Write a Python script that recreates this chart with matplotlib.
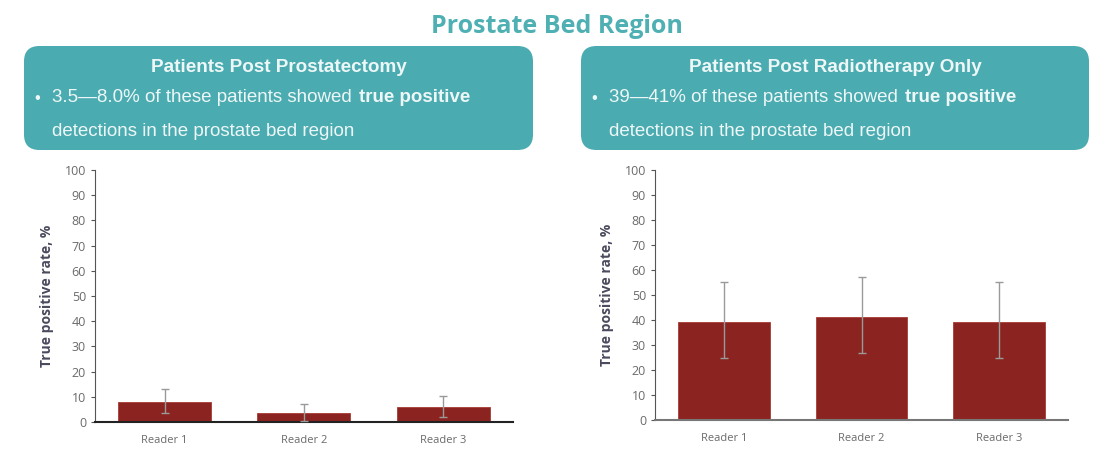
import matplotlib.pyplot as plt
from matplotlib.patches import FancyBboxPatch

readers = ['Reader 1', 'Reader 2', 'Reader 3']
# post prostatectomy
post_prost = [8.0, 3.5, 6.0]
post_prost_lo = [3.5, 0.5, 2.0]
post_prost_hi = [13.0, 7.3, 10.5]
# post radiotherapy only
post_rt = [39.0, 41.0, 39.0]
post_rt_lo = [25.0, 27.0, 25.0]
post_rt_hi = [55.0, 57.0, 55.0]
yticks = list(range(0, 101, 10))

teal = '#4aabb0'
bar_col = '#8b2420'
txt_col = '#eef7f7'

fig = plt.figure(figsize=(11.05, 4.74), dpi=100)
fig.text(0.504, 0.945, 'Prostate Bed Region', ha='center', va='center',
         fontsize=18, fontweight='bold', color='#4fb0b3', family='Open Sans')


def header(x0, x1, title, lead, bold, tail):
    W, H = 1105, 474
    box = FancyBboxPatch((x0 / W, 1 - 150 / H), (x1 - x0) / W, 104 / H,
                         boxstyle='round,pad=0,rounding_size=0.014',
                         transform=fig.transFigure, facecolor=teal, edgecolor='none',
                         mutation_aspect=W / H)
    fig.patches.append(box)
    fig.text((x0 + x1) / 2 / W, 1 - 68 / H, title, ha='center', va='center',
             fontsize=13.6, fontweight='bold', color=txt_col, family='Liberation Sans')
    fig.text((x0 + 10) / W, 1 - 98 / H, '\u2022', ha='left', va='center',
             fontsize=12, color=txt_col, family='Liberation Sans')
    t = fig.text((x0 + 28) / W, 1 - 98 / H, lead, ha='left', va='center',
                 fontsize=13.5, color=txt_col, family='Liberation Sans')
    r = fig.canvas.get_renderer()
    bb = t.get_window_extent(r)
    fig.text(bb.x1 / W + 0.0065, 1 - 98 / H, bold, ha='left', va='center',
             fontsize=13.5, fontweight='bold', color=txt_col, family='Liberation Sans')
    fig.text((x0 + 28) / W, 1 - 131 / H, tail, ha='left', va='center',
             fontsize=13.5, color=txt_col, family='Liberation Sans')


header(24, 533, 'Patients Post Prostatectomy',
       '3.5\u20148.0% of these patients showed', 'true positive',
       'detections in the prostate bed region')
header(581, 1089, 'Patients Post Radiotherapy Only',
       '39\u201441% of these patients showed', 'true positive',
       'detections in the prostate bed region')


def panel(rect, vals, lo, hi, spine_col):
    ax = fig.add_axes(rect)
    x = range(len(readers))
    err = [[v - l for v, l in zip(vals, lo)], [h - v for v, h in zip(vals, hi)]]
    ax.bar(x, vals, width=0.667, color=bar_col, edgecolor='#a83a33', linewidth=0.6, zorder=2)
    ax.errorbar(x, vals, yerr=err, fmt='none', ecolor='#9a9a9a', elinewidth=1,
                capsize=3, capthick=1, zorder=3)
    ax.set_xlim(-0.5, 2.5)
    ax.set_ylim(0, 100)
    ax.set_yticks(yticks)
    ax.set_xticks(list(x))
    ax.set_xticklabels(readers)
    for s in ['top', 'right']:
        ax.spines[s].set_visible(False)
    ax.spines['left'].set_color('#555555')
    ax.spines['bottom'].set_color(spine_col)
    ax.spines['bottom'].set_linewidth(1.5)
    ax.tick_params(axis='y', length=3, color='#555555', labelsize=9, labelcolor='#6a6a6a')
    ax.tick_params(axis='x', length=0, labelsize=8, labelcolor='#6a6a6a', pad=9)
    for lab in ax.get_xticklabels() + ax.get_yticklabels():
        lab.set_family('Open Sans')
    ax.set_ylabel('True positive rate, %', fontsize=10, fontweight='bold',
                  color='#4a4a5e', family='Open Sans', labelpad=8)
    return ax


panel([0.086, 0.1097, 0.378, 0.5317], post_prost, post_prost_lo, post_prost_hi, '#222222')
panel([0.5928, 0.1139, 0.3738, 0.5275], post_rt, post_rt_lo, post_rt_hi, '#777777')

fig.savefig('out.png', dpi=100)
